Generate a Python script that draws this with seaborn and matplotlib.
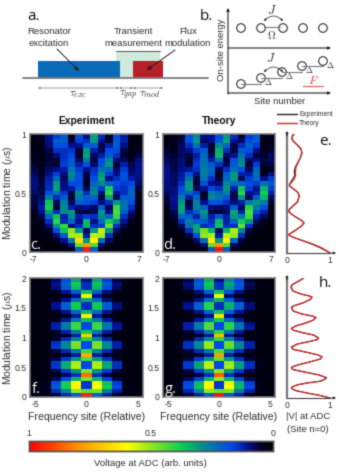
import numpy as np
import pandas as pd
import matplotlib
matplotlib.use('Agg')
import matplotlib.pyplot as plt
from matplotlib.colors import LinearSegmentedColormap
from matplotlib.patches import Rectangle, Circle, FancyArrowPatch
import seaborn as sns

W, H = 339, 473

# measured voltage, rows go top (late time) to bottom (t=0)
exp_c = [
 [.03,.05,.10,.16,.20,.05,.18,.10,.32,.14,.05,.18,.12,.03,.03],
 [.03,.05,.10,.20,.20,.06,.16,.14,.30,.10,.06,.20,.12,.03,.03],
 [.03,.05,.09,.18,.18,.10,.10,.20,.20,.07,.12,.20,.10,.03,.04],
 [.03,.05,.07,.14,.14,.15,.06,.30,.12,.08,.18,.18,.07,.03,.05],
 [.04,.05,.06,.09,.14,.17,.06,.32,.08,.12,.20,.14,.06,.04,.07],
 [.05,.05,.06,.06,.15,.20,.08,.26,.07,.17,.28,.09,.08,.05,.09],
 [.06,.05,.07,.06,.16,.20,.12,.18,.08,.18,.30,.06,.12,.07,.10],
 [.07,.05,.08,.10,.12,.25,.16,.10,.14,.24,.22,.08,.16,.08,.10],
 [.08,.05,.10,.16,.09,.28,.18,.07,.16,.30,.16,.10,.18,.09,.10],
 [.09,.06,.12,.22,.08,.26,.18,.06,.18,.32,.10,.14,.18,.12,.09],
 [.09,.07,.13,.30,.09,.18,.17,.05,.22,.28,.20,.18,.16,.17,.08],
 [.09,.07,.14,.32,.10,.11,.20,.08,.26,.16,.38,.16,.14,.20,.06],
 [.08,.07,.18,.24,.15,.07,.28,.14,.28,.09,.42,.10,.14,.22,.05],
 [.07,.08,.26,.14,.20,.06,.26,.20,.22,.07,.32,.08,.20,.20,.04],
 [.07,.10,.36,.08,.26,.08,.20,.18,.16,.09,.14,.30,.24,.18,.04],
 [.06,.12,.38,.07,.28,.12,.09,.10,.08,.20,.08,.42,.24,.14,.03],
 [.05,.10,.30,.14,.28,.30,.07,.06,.08,.30,.10,.44,.20,.10,.03],
 [.04,.07,.22,.36,.12,.28,.12,.16,.14,.28,.22,.42,.14,.07,.02],
 [.03,.05,.14,.40,.14,.22,.10,.34,.10,.22,.38,.28,.10,.05,.02],
 [.03,.04,.09,.30,.42,.10,.14,.34,.14,.16,.46,.14,.07,.03,.02],
 [.02,.03,.06,.18,.36,.50,.30,.08,.30,.54,.30,.08,.05,.03,.02],
 [.02,.03,.04,.09,.20,.52,.52,.12,.54,.52,.14,.05,.03,.02,.02],
 [.02,.02,.03,.05,.10,.26,.66,.30,.62,.24,.08,.03,.02,.02,.02],
 [.02,.02,.02,.03,.05,.10,.46,.78,.44,.09,.04,.02,.02,.02,.02],
 [.02,.02,.02,.02,.03,.05,.20,.96,.20,.05,.03,.02,.02,.02,.02],
]
theory_d = [
 [.03,.04,.06,.18,.28,.10,.10,.18,.30,.14,.06,.16,.20,.05,.04],
 [.03,.04,.07,.18,.30,.08,.10,.20,.32,.10,.08,.18,.20,.04,.04],
 [.04,.05,.08,.14,.24,.12,.06,.28,.22,.07,.14,.20,.16,.04,.05],
 [.06,.05,.08,.10,.16,.20,.06,.33,.14,.07,.20,.18,.10,.05,.06],
 [.07,.06,.08,.07,.12,.22,.08,.34,.08,.10,.24,.14,.06,.06,.08],
 [.08,.07,.09,.06,.14,.24,.12,.24,.06,.18,.28,.08,.10,.07,.08],
 [.09,.07,.09,.07,.16,.24,.20,.14,.08,.20,.28,.06,.16,.06,.07],
 [.10,.07,.10,.11,.14,.26,.22,.07,.14,.24,.18,.08,.22,.04,.05],
 [.10,.08,.11,.18,.10,.26,.20,.05,.20,.30,.12,.12,.24,.05,.10],
 [.10,.08,.12,.24,.07,.24,.14,.06,.22,.30,.08,.16,.22,.10,.16],
 [.09,.08,.14,.30,.06,.18,.10,.09,.28,.22,.22,.18,.16,.24,.20],
 [.09,.09,.18,.30,.08,.10,.17,.14,.30,.12,.36,.16,.10,.34,.16],
 [.08,.09,.20,.22,.16,.06,.26,.22,.26,.08,.40,.10,.12,.38,.12],
 [.07,.10,.26,.12,.22,.06,.28,.24,.20,.07,.30,.08,.20,.34,.08],
 [.06,.10,.30,.07,.26,.10,.18,.18,.14,.09,.12,.26,.30,.26,.06],
 [.05,.09,.32,.08,.26,.22,.09,.08,.09,.20,.08,.40,.26,.18,.05],
 [.04,.07,.30,.14,.20,.30,.07,.06,.08,.32,.12,.44,.18,.12,.03],
 [.03,.06,.22,.20,.12,.26,.12,.20,.12,.30,.26,.42,.12,.08,.02],
 [.03,.04,.14,.26,.20,.20,.14,.34,.12,.22,.38,.30,.08,.05,.02],
 [.02,.03,.08,.24,.32,.14,.16,.36,.14,.14,.46,.14,.05,.03,.02],
 [.02,.03,.05,.14,.32,.48,.34,.08,.34,.52,.28,.07,.03,.02,.02],
 [.02,.02,.03,.07,.18,.50,.52,.12,.54,.50,.14,.04,.02,.02,.02],
 [.02,.02,.02,.04,.08,.24,.64,.30,.62,.22,.07,.03,.02,.02,.02],
 [.02,.02,.02,.02,.04,.09,.46,.80,.44,.08,.03,.02,.02,.02,.02],
 [.02,.02,.02,.02,.02,.04,.20,.97,.20,.04,.02,.02,.02,.02,.02],
]
exp_f = [
 [.02,.03,.08,.18,.32,.10,.32,.16,.07,.03,.02],
 [.02,.03,.10,.21,.37,.14,.36,.20,.09,.03,.02],
 [.02,.03,.09,.19,.35,.14,.34,.18,.08,.03,.02],
 [.02,.02,.05,.10,.20,.36,.20,.09,.04,.02,.02],
 [.02,.02,.03,.05,.10,.58,.10,.05,.03,.02,.02],
 [.02,.02,.05,.10,.22,.32,.22,.09,.04,.02,.02],
 [.02,.03,.10,.21,.38,.14,.37,.20,.09,.03,.02],
 [.02,.03,.10,.21,.37,.14,.37,.20,.09,.03,.02],
 [.02,.02,.05,.10,.22,.34,.22,.10,.04,.02,.02],
 [.02,.02,.03,.05,.11,.63,.11,.05,.03,.02,.02],
 [.02,.02,.05,.11,.24,.36,.24,.11,.05,.02,.02],
 [.02,.04,.12,.25,.42,.17,.42,.24,.10,.03,.02],
 [.02,.04,.12,.25,.42,.17,.42,.24,.11,.03,.02],
 [.02,.02,.06,.12,.25,.38,.25,.11,.05,.02,.02],
 [.02,.02,.03,.05,.12,.68,.12,.05,.03,.02,.02],
 [.02,.02,.06,.13,.27,.40,.27,.12,.05,.02,.02],
 [.02,.04,.14,.28,.48,.17,.47,.27,.12,.03,.02],
 [.02,.04,.15,.28,.47,.17,.48,.28,.12,.03,.02],
 [.02,.03,.07,.13,.26,.42,.27,.13,.06,.02,.02],
 [.02,.02,.03,.06,.12,.75,.12,.06,.03,.02,.02],
 [.02,.02,.07,.15,.30,.44,.30,.14,.06,.02,.02],
 [.02,.04,.15,.33,.52,.17,.52,.32,.14,.04,.02],
 [.02,.04,.15,.33,.53,.17,.53,.32,.14,.04,.02],
 [.02,.03,.07,.15,.30,.48,.30,.15,.07,.03,.02],
 [.02,.02,.03,.08,.14,.85,.14,.07,.03,.02,.02],
 [.02,.03,.08,.17,.34,.48,.34,.16,.07,.03,.02],
 [.02,.05,.18,.38,.60,.15,.58,.36,.16,.04,.02],
 [.02,.05,.20,.38,.62,.15,.60,.38,.17,.04,.02],
 [.02,.04,.14,.28,.50,.45,.48,.26,.12,.03,.02],
 [.02,.03,.06,.14,.20,.95,.20,.12,.05,.02,.02],
]
theory_g = [
 [.02,.03,.07,.18,.33,.10,.28,.17,.06,.03,.02],
 [.02,.04,.09,.21,.37,.14,.32,.20,.08,.03,.02],
 [.02,.03,.08,.19,.35,.14,.30,.18,.07,.03,.02],
 [.02,.02,.05,.09,.20,.36,.18,.09,.04,.02,.02],
 [.02,.02,.03,.05,.10,.58,.09,.05,.03,.02,.02],
 [.02,.02,.05,.10,.22,.34,.20,.09,.04,.02,.02],
 [.02,.03,.10,.21,.40,.14,.34,.20,.09,.03,.02],
 [.02,.03,.10,.21,.40,.14,.33,.20,.09,.03,.02],
 [.02,.02,.05,.10,.22,.36,.20,.10,.04,.02,.02],
 [.02,.02,.03,.05,.10,.65,.10,.05,.03,.02,.02],
 [.02,.02,.05,.11,.24,.38,.22,.11,.05,.02,.02],
 [.02,.04,.12,.25,.44,.17,.40,.24,.10,.03,.02],
 [.02,.04,.12,.25,.44,.17,.40,.24,.11,.03,.02],
 [.02,.02,.06,.12,.25,.40,.24,.11,.05,.02,.02],
 [.02,.02,.03,.05,.11,.72,.11,.05,.03,.02,.02],
 [.02,.02,.06,.13,.27,.42,.26,.12,.05,.02,.02],
 [.02,.04,.14,.28,.50,.17,.46,.27,.12,.03,.02],
 [.02,.04,.14,.28,.50,.17,.46,.28,.12,.03,.02],
 [.02,.03,.07,.13,.26,.44,.26,.13,.06,.02,.02],
 [.02,.02,.03,.06,.12,.78,.12,.06,.03,.02,.02],
 [.02,.02,.07,.15,.30,.46,.30,.14,.06,.02,.02],
 [.02,.04,.15,.32,.53,.17,.51,.31,.14,.04,.02],
 [.02,.04,.15,.32,.54,.17,.52,.31,.14,.04,.02],
 [.02,.03,.07,.15,.30,.50,.30,.15,.07,.03,.02],
 [.02,.02,.03,.07,.14,.87,.14,.07,.03,.02,.02],
 [.02,.03,.08,.16,.34,.50,.34,.16,.07,.03,.02],
 [.02,.05,.17,.35,.60,.15,.58,.34,.16,.04,.02],
 [.02,.05,.18,.36,.62,.15,.60,.35,.17,.04,.02],
 [.02,.04,.13,.27,.50,.46,.48,.26,.12,.03,.02],
 [.02,.03,.06,.12,.20,.97,.20,.12,.05,.02,.02],
]

# site n=0 traces
t_e = [0,.02,.045,.08,.115,.14,.153,.165,.19,.225,.253,.275,.30,.325,.35,.365,.39,.43,.48,.51,.54,.56,.572,.59,.62,.65,.69,.72,.76,.80,.84,.875,.91,.94,.96,.98,1]
v_e_exp = [1,.9,.77,.54,.27,.09,.04,.08,.19,.33,.40,.33,.21,.11,.04,.05,.12,.24,.29,.25,.14,.07,.05,.08,.13,.18,.17,.19,.25,.31,.35,.32,.23,.15,.115,.12,.15]
v_e_th = [1,.92,.80,.57,.28,.09,.03,.09,.20,.33,.39,.34,.22,.11,.03,.06,.13,.25,.28,.25,.15,.08,.05,.10,.17,.20,.20,.21,.26,.31,.34,.33,.24,.14,.11,.13,.17]

t_h = [0,.04,.08,.12,.14,.166,.19,.22,.25,.28,.31,.34,.39,.43,.475,.51,.55,.60,.65,.685,.72,.767,.81,.85,.90,.942,.97,1.0,
       1.05,1.09,1.13,1.16,1.20,1.25,1.30,1.34,1.366,1.40,1.45,1.51,1.534,1.58,1.64,1.68,1.70,1.73,1.78,1.84,1.884,1.91,1.94,1.97,2.0]
v_h_exp = [1,.78,.48,.22,.15,.10,.13,.24,.46,.78,.88,.92,.72,.42,.13,.10,.24,.52,.78,.81,.72,.42,.14,.10,.24,.52,.70,.73,
           .62,.35,.14,.10,.20,.43,.62,.67,.60,.34,.14,.10,.14,.35,.54,.58,.52,.34,.14,.09,.11,.17,.25,.32,.38]
v_h_th = [1,.79,.49,.23,.15,.11,.14,.25,.47,.77,.87,.91,.71,.43,.14,.10,.25,.53,.77,.82,.71,.43,.15,.11,.25,.53,.69,.74,
          .61,.36,.15,.10,.21,.44,.61,.68,.59,.35,.15,.11,.15,.36,.53,.59,.51,.35,.15,.10,.12,.18,.26,.33,.39]

site_c_ticks = ['-7', '0', '7']
site_f_ticks = ['-5', '0', '5']
time_c_ticks = ['1', '0.5', '0']
time_f_ticks = ['2', '1.5', '1', '0.5', '0']

cmap_stops = [(0, '#000005'), (.05, '#00001e'), (.1, '#001090'), (.17, '#0048e8'), (.28, '#008a90'), (.38, '#10d050'),
              (.5, '#90e820'), (.6, '#ffff00'), (.8, '#ff9000'), (1, '#ff0000')]
volt_cmap = LinearSegmentedColormap.from_list('volt', cmap_stops)

sns.set_theme(style='white')
plt.rcParams['font.family'] = ['Liberation Sans', 'DejaVu Sans']
plt.rcParams['mathtext.fontset'] = 'cm'
GRAY = '#7a7a7a'
TXT = '#333333'


def box(l, t, r, b):
    return [l / W, 1 - b / H, (r - l) / W, (b - t) / H]


def heat(vals, rect, xt, yt, ylabel=None, xlabel=None):
    a = fig.add_axes(box(*rect))
    arr = np.array(vals)
    sns.heatmap(pd.DataFrame(arr), ax=a, cmap=volt_cmap, vmin=0, vmax=1, cbar=False, xticklabels=False, yticklabels=False)
    n_r, n_c = arr.shape
    a.set_xticks([.5, n_c / 2, n_c - .5])
    a.set_xticklabels(xt)
    a.set_yticks(np.linspace(0, n_r, len(yt)))
    a.set_yticklabels(yt, rotation=0)
    a.tick_params(axis='both', labelsize=6.2, length=0, pad=2.5, colors=TXT)
    for s in a.spines.values():
        s.set_visible(True)
        s.set_color(GRAY)
        s.set_linewidth(1.1)
    if ylabel:
        a.set_ylabel(ylabel, fontsize=7.4, color=TXT)
        a.yaxis.set_label_coords((15 - rect[0]) / (rect[2] - rect[0]), .5)
    if xlabel:
        a.set_xlabel(xlabel, fontsize=7.6, color=TXT, labelpad=2)
    return a


def trace(rect, t, v_exp, v_th, tmax):
    a = fig.add_axes(box(*rect))
    sns.lineplot(x=v_exp, y=t, sort=False, estimator=None, ax=a, color='#222222', lw=.8)
    sns.lineplot(x=v_th, y=t, sort=False, estimator=None, ax=a, color='#e02020', lw=.8)
    a.set_xlim(0, 1)
    a.set_ylim(0, tmax)
    a.set_xticks([0, 1])
    a.set_xticklabels(['0', '1'])
    a.set_yticks([])
    a.tick_params(axis='x', labelsize=6.2, length=0, pad=2.5, colors=TXT)
    a.patch.set_alpha(0)
    sns.despine(ax=a)
    a.spines['left'].set_color(GRAY)
    a.spines['left'].set_linewidth(1.6)
    a.spines['bottom'].set_color('#444444')
    a.spines['bottom'].set_linewidth(.8)
    return a


fig = plt.figure(figsize=(W / 100, H / 100), dpi=100)

heat(exp_c, (30, 134, 143, 252), site_c_ticks, time_c_ticks, ylabel='Modulation time ($\\mu$s)')
heat(theory_d, (163, 134, 275, 252), site_c_ticks, time_c_ticks)
heat(exp_f, (30, 278, 143, 397), site_f_ticks, time_f_ticks, ylabel='Modulation time ($\\mu$s)', xlabel='Frequency site (Relative)')
heat(theory_g, (163, 278, 275, 397), site_f_ticks, time_f_ticks, xlabel='Frequency site (Relative)')
trace((287, 134, 330, 253), t_e, v_e_exp, v_e_th, 1)
trace((287, 278, 330, 398), t_h, v_h_exp, v_h_th, 2)

# colour bar from a heatmap mappable
cax = fig.add_axes(box(29, 441, 273, 451))
bar_a = fig.add_axes([0, 0, .001, .001])
sns.heatmap([[0, 1]], ax=bar_a, cmap=volt_cmap, vmin=0, vmax=1, cbar_ax=cax,
            cbar_kws={'orientation': 'horizontal', 'ticks': [0, .5, 1]})
bar_a.set_visible(False)
cax.invert_xaxis()
cax.xaxis.tick_top()
cax.set_xticklabels(['0', '0.5', '1'])
cax.tick_params(axis='x', labelsize=6.2, length=0, pad=2, colors=TXT)
for s in cax.spines.values():
    s.set_visible(True)
    s.set_color('#555555')
    s.set_linewidth(1)

# overlay in picture coordinates for schematics and labels
ov = fig.add_axes([0, 0, 1, 1], zorder=20)
ov.set_xlim(0, W)
ov.set_ylim(H, 0)
ov.axis('off')
ov.patch.set_alpha(0)


def label(x, y, s, size=6.8, color=TXT, **kw):
    ov.text(x, y, s, fontsize=size, color=color, ha=kw.pop('ha', 'center'), va='center', **kw)


def arrow(p0, p1, style='-|>', color='#222222', lw=.7, ms=5, **kw):
    ov.add_patch(FancyArrowPatch(p0, p1, arrowstyle=style, mutation_scale=ms, color=color, lw=lw, shrinkA=0, shrinkB=0, **kw))


# a. pulse sequence
ov.add_patch(Rectangle((116, 51), 44, 27, color='#cfe9dc', lw=0))
ov.add_patch(Rectangle((38, 61), 82, 17, color='#0a6cb8', lw=0))
ov.add_patch(Rectangle((133, 61), 30, 17, color='#b82028', lw=0))
ov.plot([23, 208], [78, 78], color=GRAY, lw=1.3)
ov.plot([116, 160], [51.5, 51.5], color='#555555', lw=.7)
arrow((57, 49), (79, 71), ms=6)
arrow((175, 50), (147, 70), ms=6)
for x0, x1 in [(38, 119), (119, 133), (133, 163)]:
    arrow((x0, 88), (x1, 88), style='<|-|>', color=GRAY, lw=.5, ms=2.5)
label(49, 32, 'Resonator')
label(49, 43, 'excitation')
label(133, 32, 'Transient')
label(133, 43, 'measurement')
label(188, 32, 'Flux')
label(188, 43, 'modulation')
label(78, 95, '$\\tau_{exc}$', size=8)
label(128, 95, '$\\tau_{gap}$', size=8)
label(150, 95, '$\\tau_{mod}$', size=8)
label(33, 17, 'a.', size=11, family='Open Sans', color='#111111')
label(206, 16, 'b.', size=11, family='Open Sans', color='#111111')

# b. lattice sketch
arrow((228, 94), (228, 8), color='#222222', lw=.8, ms=4)
arrow((228, 48), (331, 48), color='#222222', lw=.8, ms=4)
arrow((228, 93), (331, 93), color='#222222', lw=.8, ms=4)
site_x = [241, 261, 283, 303, 323]
for x in site_x:
    ov.add_patch(Circle((x, 28), 4.3, fc='none', ec='#333333', lw=.8))
ov.plot([264, 280], [27, 27], color=GRAY, lw=.8)
arrow((264, 21), (283, 21), style='<|-|>', connectionstyle='arc3,rad=-.5', lw=.5, ms=3)
label(272, 10, '$J$', size=9)
label(272, 35, '$\\Omega$', size=7.5)
stair_x = [241, 261, 282, 302, 323]
stair_y = [84, 78, 72, 66, 61]
for i, (x, y) in enumerate(zip(stair_x, stair_y)):
    ov.add_patch(Circle((x, y), 4.3, fc='none', ec='#333333', lw=.8))
    if i < 4:
        ov.plot([x, stair_x[i + 1]], [y, y], color=GRAY, lw=.8)
    if i > 0:
        label(x + 7, y + 4, '$\\Delta$', size=6)
arrow((264, 72), (283, 72), style='<|-|>', connectionstyle='arc3,rad=-.5', lw=.5, ms=3)
label(271, 58, '$J$', size=9)
label(313, 81, '$F$', size=8.5, color='#f04040')
ov.plot([303, 323], [86, 86], color='#f06060', lw=.9)
label(280, 101, 'Site number')
label(221, 50, 'On-site energy', rotation=90)

# arrow tips on the trace axes
for y0 in (253, 398):
    arrow((330, y0), (336, y0), lw=.6, ms=3.5)
arrow((287, 136), (287, 131), lw=.6, ms=3.5)
arrow((287, 280), (287, 275), lw=.6, ms=3.5)

# legend
ov.plot([277, 297], [114, 114], color='#222222', lw=1)
ov.plot([277, 297], [123, 123], color='#e02020', lw=1)
label(299, 114, 'Experiment', size=4.8, ha='left')
label(299, 123, 'Theory', size=4.8, ha='left')

# titles and panel letters
label(87, 121, 'Experiment', size=7.4, weight='bold', color='#111111')
label(219, 121, 'Theory', size=7.4, weight='bold', color='#111111')
label(325, 141, 'e.', size=11, family='Open Sans', color='#111111')
label(325, 283, 'h.', size=11, family='Open Sans', color='#111111')
label(36, 245, 'c.', size=10.5, family='Open Sans', color='white')
label(170, 245, 'd.', size=10.5, family='Open Sans', color='white')
label(36, 389, 'f.', size=10.5, family='Open Sans', color='white')
label(171, 389, 'g.', size=10.5, family='Open Sans', color='white')
label(308, 416, '|V| at ADC')
label(308, 429, '(Site n=0)')
label(150, 463, 'Voltage at ADC (arb. units)')

fig.savefig('out.png', dpi=100)

# the source figure is a soft low resolution scan, so soften the render a little
img = plt.imread('out.png')[:, :, :3]
kernel = np.array([.15, .7, .15])
for ax_i in (0, 1):
    img = sum(k * np.roll(img, s, axis=ax_i) for k, s in zip(kernel, (-1, 0, 1)))
plt.imsave('out.png', np.clip(img, 0, 1))
